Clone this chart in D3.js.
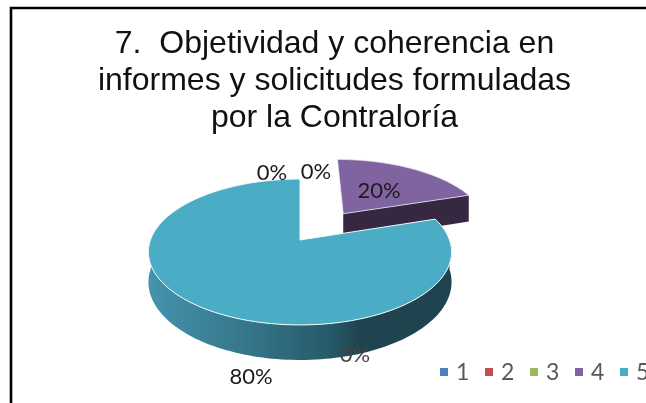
<!DOCTYPE html>
<html><head><meta charset="utf-8">
<script src="https://cdn.jsdelivr.net/npm/d3@7"></script>
<style>html,body{margin:0;padding:0;background:#fff;overflow:hidden}svg{display:block;filter:blur(0.35px)}</style>
</head><body><svg id="c" width="646" height="403"></svg>
<script>
const titleLines = ["7.  Objetividad y coherencia en", "informes y solicitudes formuladas", "por la Contraloría"];
const categories = ["1", "2", "3", "4", "5"];
const values = [0, 0, 0, 20, 80];
const colors = ["#4f81bd", "#c0504d", "#9bbb59", "#8064a2", "#4bacc6"];
const explode = [0, 0, 0, 0.5, 0];

const W = 646, H = 403;
const svg = d3.select("#c");
const defs = svg.append("defs");

// frame
svg.append("path").attr("d", d3.line()([[11, H], [11, 8], [W, 8]]))
  .attr("fill", "none").attr("stroke", "#000").attr("stroke-width", 2.6);

// title
svg.append("g").selectAll("text").data(titleLines).join("text")
  .attr("x", 334.5).attr("y", (d, i) => 53 + i * 37)
  .attr("text-anchor", "middle").attr("font-family", "'Liberation Sans'")
  .attr("font-size", 32).attr("fill", "#111").style("white-space", "pre").text(d => d);

// perspective projection of the pie disc
const cx = 300, cy = 240, bx = 149.5, by = 71, k = 0.164, depth = 29.3;
const project = (u, v, low) => {
  const s = 1 + k * v;
  return [cx + bx * u / s, cy - by * v / s + (low ? depth / s : 0)];
};
const pie = d3.pie().sort(null).startAngle(0).endAngle(2 * Math.PI)(values);
const samples = (a0, a1) => d3.range(0, 121).map(i => a0 + (a1 - a0) * i / 120);
const rim = (a, off, low) => project(off[0] + Math.sin(a), off[1] + Math.cos(a), low);
const line = d3.line();
const offset = (d, i) => {
  const m = (d.startAngle + d.endAngle) / 2 + 0.035;
  return [explode[i] * Math.sin(m), explode[i] * Math.cos(m)];
};

const grad = defs.append("linearGradient").attr("id", "wall").attr("gradientUnits", "userSpaceOnUse")
  .attr("x1", 149).attr("x2", 450).attr("y1", 0).attr("y2", 0);
[[0, "#4593ad"], [0.3, "#37788d"], [0.6, "#275a69"], [0.7, "#1f444f"], [1, "#1f444f"]]
  .forEach(s => grad.append("stop").attr("offset", s[0]).attr("stop-color", s[1]));

const slice4 = pie[3], slice5 = pie[4];
const o4 = offset(slice4, 3), o5 = offset(slice5, 4);

// exploded slice: radial wall, then top
svg.append("path").attr("fill", "#352840")
  .attr("d", line([project(o4[0], o4[1]), rim(slice4.endAngle, o4), rim(slice4.endAngle, o4, true), project(o4[0], o4[1], true)]) + "Z");
svg.append("path").attr("fill", colors[3]).attr("stroke", "#e8e4ee").attr("stroke-width", 0.8)
  .attr("d", line([project(o4[0], o4[1]), ...samples(slice4.startAngle, slice4.endAngle).map(a => rim(a, o4))]) + "Z");

// main slice: outer wall, then top
const wallA = samples(Math.PI / 2, Math.PI * 1.5 + 0.15);
svg.append("path").attr("fill", "url(#wall)")
  .attr("d", line([...wallA.map(a => rim(a, o5)), ...wallA.slice().reverse().map(a => rim(a, o5, true))]) + "Z");
svg.append("path").attr("fill", colors[4]).attr("stroke", "#f2f8fa").attr("stroke-width", 1)
  .attr("d", line([project(o5[0], o5[1]), ...samples(slice5.startAngle, slice5.endAngle).map(a => rim(a, o5))]) + "Z");

// data labels
const fmt = d3.format(".0%");
const total = d3.sum(values);
const labelAt = [[272, 180], [316, 179], [355, 362], [379, 198], [251, 384]];
svg.append("g").selectAll("text").data(values).join("text")
  .attr("x", (d, i) => labelAt[i][0]).attr("y", (d, i) => labelAt[i][1])
  .attr("text-anchor", "middle").attr("font-family", "Lato").attr("font-size", 22)
  .attr("fill", (d, i) => i === 2 ? "#444" : "#1c1c1c").text(d => fmt(d / total));

// legend
const legendX = d3.scalePoint().domain(categories).range([444, 624]);
const leg = svg.append("g").selectAll("g").data(categories).join("g")
  .attr("transform", d => `translate(${legendX(d)},372)`);
leg.append("rect").attr("x", -4).attr("y", -4).attr("width", 8).attr("height", 8)
  .attr("fill", (d, i) => colors[i]);
leg.append("text").attr("x", 12).attr("y", 8).attr("text-anchor", "start")
  .attr("font-family", "Lato").attr("font-size", 23).attr("fill", "#595959").text(d => d);
</script></body></html>
